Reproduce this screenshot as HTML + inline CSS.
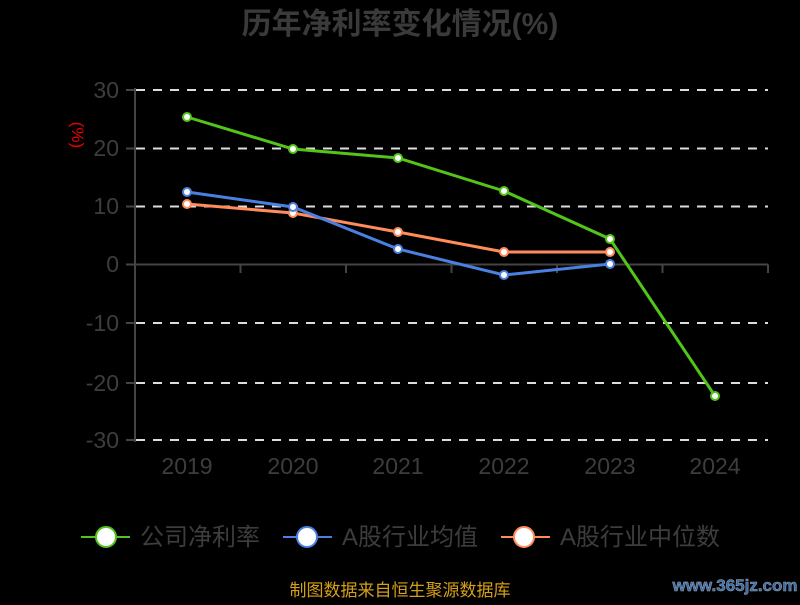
<!DOCTYPE html>
<html><head><meta charset="utf-8"><style>
html,body{margin:0;padding:0;background:#000;}
svg text{font-family:"Liberation Sans","Noto Sans CJK SC",sans-serif;}
</style></head><body>
<svg width="800" height="600" viewBox="0 0 800 600" xmlns="http://www.w3.org/2000/svg">
<rect width="800" height="600" fill="#000"/>
<text x="400" y="34" text-anchor="middle" font-size="30" font-weight="bold" fill="#3a3a3a">历年净利率变化情况(%)</text>
<text x="80" y="127" text-anchor="middle" font-size="17" fill="#e00" transform="rotate(90 72 127)">(%)</text>
<g stroke="#ddd" stroke-width="2" stroke-dasharray="9,8">
<line x1="136" y1="90" x2="768" y2="90"/>
<line x1="136" y1="148.5" x2="768" y2="148.5"/>
<line x1="136" y1="206.5" x2="768" y2="206.5"/>
<line x1="136" y1="323" x2="768" y2="323"/>
<line x1="136" y1="383" x2="768" y2="383"/>
<line x1="136" y1="440" x2="768" y2="440"/>
</g>
<g stroke="#444" stroke-width="2" fill="none">
<line x1="135" y1="88" x2="135" y2="442"/>
<line x1="126" y1="90" x2="135" y2="90"/>
<line x1="126" y1="148.5" x2="135" y2="148.5"/>
<line x1="126" y1="206.5" x2="135" y2="206.5"/>
<line x1="126" y1="264.5" x2="135" y2="264.5"/>
<line x1="126" y1="323" x2="135" y2="323"/>
<line x1="126" y1="383" x2="135" y2="383"/>
<line x1="126" y1="440" x2="135" y2="440"/>
<line x1="135" y1="264.5" x2="768" y2="264.5"/>
<line x1="240.5" y1="264.5" x2="240.5" y2="273"/>
<line x1="346" y1="264.5" x2="346" y2="273"/>
<line x1="451.5" y1="264.5" x2="451.5" y2="273"/>
<line x1="557" y1="264.5" x2="557" y2="273"/>
<line x1="662.5" y1="264.5" x2="662.5" y2="273"/>
<line x1="768" y1="264.5" x2="768" y2="273"/>
</g>
<g font-size="23" fill="#3d3d3d" text-anchor="end">
<text x="119" y="98">30</text>
<text x="119" y="156">20</text>
<text x="119" y="214">10</text>
<text x="119" y="272">0</text>
<text x="119" y="331">-10</text>
<text x="119" y="391">-20</text>
<text x="119" y="448">-30</text>
</g>
<g font-size="23" fill="#3d3d3d" text-anchor="middle">
<text x="187" y="474">2019</text>
<text x="293" y="474">2020</text>
<text x="398" y="474">2021</text>
<text x="504" y="474">2022</text>
<text x="610" y="474">2023</text>
<text x="715" y="474">2024</text>
</g>
<polyline fill="none" stroke="#ff8c5a" stroke-width="3" points="187,204 293,213 398,232 504,252 610,252"/>
<polyline fill="none" stroke="#4a80e0" stroke-width="3" points="187,192 293,207 398,249 504,275 610,264"/>
<polyline fill="none" stroke="#52c41a" stroke-width="3" points="187,117 293,149 398,158 504,191 610,239 715,396"/>
<g fill="#fff" stroke="#ff8c5a" stroke-width="2">
<circle cx="187" cy="204" r="4"/><circle cx="293" cy="213" r="4"/><circle cx="398" cy="232" r="4"/><circle cx="504" cy="252" r="4"/><circle cx="610" cy="252" r="4"/>
</g>
<g fill="#fff" stroke="#4a80e0" stroke-width="2">
<circle cx="187" cy="192" r="4"/><circle cx="293" cy="207" r="4"/><circle cx="398" cy="249" r="4"/><circle cx="504" cy="275" r="4"/><circle cx="610" cy="264" r="4"/>
</g>
<g fill="#fff" stroke="#52c41a" stroke-width="2">
<circle cx="187" cy="117" r="4"/><circle cx="293" cy="149" r="4"/><circle cx="398" cy="158" r="4"/><circle cx="504" cy="191" r="4"/><circle cx="610" cy="239" r="4"/><circle cx="715" cy="396" r="4"/>
</g>
<g font-size="24" fill="#3d3d3d">
<line x1="81" y1="537" x2="130" y2="537" stroke="#52c41a" stroke-width="2"/>
<circle cx="106" cy="537" r="10" fill="#fff" stroke="#52c41a" stroke-width="2"/>
<text x="140" y="545">公司净利率</text>
<line x1="283" y1="537" x2="332" y2="537" stroke="#4a80e0" stroke-width="2"/>
<circle cx="307" cy="537" r="10" fill="#fff" stroke="#4a80e0" stroke-width="2"/>
<text x="342" y="545">A股行业均值</text>
<line x1="501" y1="537" x2="550" y2="537" stroke="#ff8c5a" stroke-width="2"/>
<circle cx="524" cy="537" r="10" fill="#fff" stroke="#ff8c5a" stroke-width="2"/>
<text x="560" y="545">A股行业中位数</text>
</g>
<text x="400" y="596" text-anchor="middle" font-size="17" fill="#d4a017">制图数据来自恒生聚源数据库</text>
<text x="735" y="591" text-anchor="middle" font-size="17" font-weight="bold" fill="#3a6aa8" stroke="#9ab" stroke-width="0.5">www.365jz.com</text>
</svg>
</body></html>
